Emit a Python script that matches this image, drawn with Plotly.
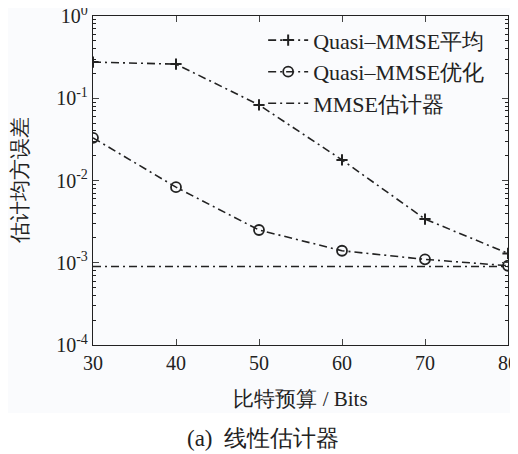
import plotly.graph_objects as go

bits = [30, 40, 50, 60, 70, 80]
quasi_avg = [0.275, 0.26, 0.083, 0.0178, 0.0034, 0.0013]
quasi_opt = [0.033, 0.0083, 0.0025, 0.0014, 0.0011, 0.00092]
mmse = [0.0009] * 6
names = ["Quasi–MMSE平均", "Quasi–MMSE优化", "MMSE估计器"]
xtick_vals = [30, 40, 50, 60, 70, 80]
ytick_vals = [1e-4, 1e-3, 1e-2, 1e-1, 1]
ytick_text = ["10<sup>-4</sup>", "10<sup>-3</sup>", "10<sup>-2</sup>", "10<sup>-1</sup>", "10<sup>0</sup>"]
decades = [1e-4, 1e-3, 1e-2, 1e-1]
minor_vals = [d * m for d in decades for m in range(2, 10)]

FONT = "Liberation Serif"
dash = "8px,4px,2px,4px"
INK = "#222"

fig = go.Figure()
fig.add_trace(go.Scatter(x=bits, y=quasi_avg, name=names[0], mode="lines+markers",
                         line=dict(color=INK, width=1.6, dash=dash),
                         marker=dict(symbol="cross-thin", size=8, line=dict(color=INK, width=2))))
fig.add_trace(go.Scatter(x=bits, y=quasi_opt, name=names[1], mode="lines+markers",
                         line=dict(color=INK, width=1.6, dash=dash),
                         marker=dict(symbol="circle-open", size=10, color=INK, line=dict(width=1.8))))
fig.add_trace(go.Scatter(x=bits, y=mmse, name=names[2], mode="lines",
                         line=dict(color=INK, width=1.6, dash=dash)))

fig.update_layout(
    width=518, height=454,
    margin=dict(l=85, r=18, t=8, b=117),
    paper_bgcolor="#fafbfd", plot_bgcolor="#fafbfd",
    font=dict(family=FONT, color=INK, size=19),
    showlegend=True,
    legend=dict(x=0.41, y=0.99, xanchor="left", yanchor="top", bgcolor="rgba(0,0,0,0)",
                font=dict(size=22), tracegroupgap=0, itemwidth=40),
    xaxis=dict(range=[30, 80], tickvals=xtick_vals, ticks="inside", ticklen=6,
               showline=True, linecolor=INK, linewidth=1.3, mirror="ticks",
               showgrid=False, zeroline=False, tickfont=dict(size=20), automargin=False,
               ticklabeloverflow="allow",
               title=dict(text="比特预算 / Bits", font=dict(size=21), standoff=18)),
    yaxis=dict(type="log", range=[-4, 0], tickvals=ytick_vals, ticktext=ytick_text,
               ticks="inside", ticklen=6, showline=True, linecolor=INK, linewidth=1.3,
               mirror="ticks", showgrid=False, zeroline=False, tickfont=dict(size=20),
               automargin=False, ticklabeloverflow="allow",
               title=dict(text="估计均方误差", font=dict(size=21), standoff=28)),
    yaxis2=dict(type="log", range=[-4, 0], overlaying="y", tickvals=minor_vals,
                ticks="inside", ticklen=3, showticklabels=False, mirror="ticks",
                showline=False, showgrid=False, zeroline=False, automargin=False, tickcolor=INK),
    annotations=[dict(text="(a)  线性估计器", x=0.41, y=-0.283, xref="paper", yref="paper",
                      showarrow=False, font=dict(size=23), xanchor="center", yanchor="middle")],
    shapes=[dict(type="rect", xref="paper", yref="paper", x0=-0.3, x1=1.1, y0=-0.4, y1=-0.207,
                 fillcolor="white", line=dict(width=0), layer="below")],
)
fig.add_trace(go.Scatter(x=[None], y=[None], yaxis="y2", showlegend=False, hoverinfo="skip"))
fig.write_html("out.html")
